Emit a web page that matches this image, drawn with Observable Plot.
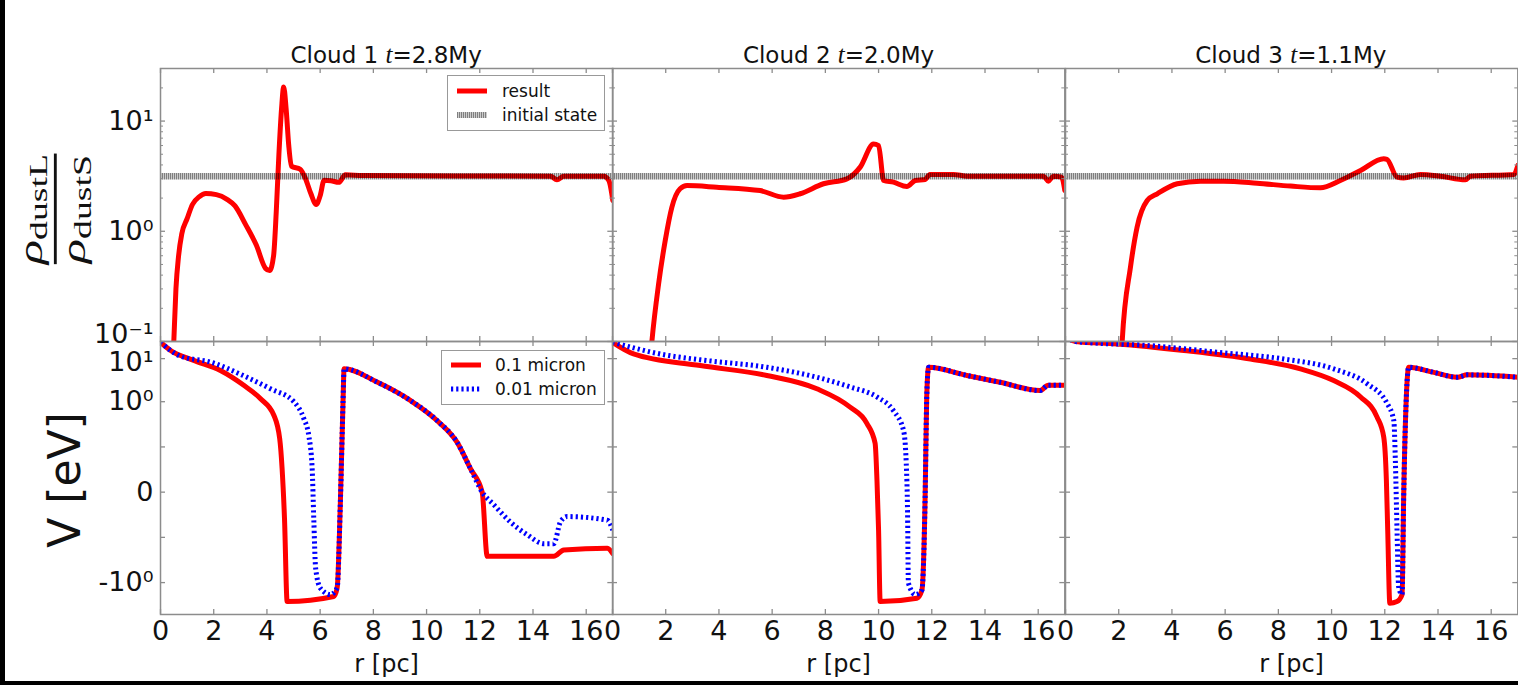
<!DOCTYPE html>
<html>
<head>
<meta charset="utf-8">
<script src="https://cdn.jsdelivr.net/npm/d3@7"></script>
<script src="https://cdn.jsdelivr.net/npm/@observablehq/plot@0.6"></script>
<style>
  html, body { margin: 0; padding: 0; background: #fff; }
  #fig { position: relative; width: 1518px; height: 685px; overflow: hidden; background: #fff;
         font-family: "DejaVu Sans", sans-serif; color: #111; }
  .blk-left { position: absolute; left: 0; top: 0; width: 5px; height: 685px; background: #000; }
  .blk-bot { position: absolute; left: 0; top: 681px; width: 1518px; height: 4px; background: #000; }
  .panel { position: absolute; }
  .title { position: absolute; font-size: 23px; line-height: 23px; white-space: nowrap; transform: translateX(-50%); }
  .title i { font-family: "Liberation Serif", serif; font-size: 25px; }
  .legend { position: absolute; border: 1.5px solid #999; background: #fff; box-sizing: border-box; }
  .legend .row { position: absolute; left: 0; height: 20px; display: flex; align-items: center; font-size: 17px; white-space: nowrap; }
  .legend svg { display: block; }
  .ylab { position: absolute; white-space: nowrap; }
  .frac { display: inline-flex; flex-direction: column; align-items: center; font-family: "Liberation Serif", serif; }
  .frac .num, .frac .den { font-size: 36px; line-height: 28px; height: 28px; }
  .frac .num i, .frac .den i { font-style: italic; }
  .frac sub { font-size: 27px; vertical-align: -6px; line-height: 0; }
  .frac .bar { width: 100%; height: 3px; background: #111; margin: 11px 0 4px 0; }
</style>
</head>
<body>
<div id="fig">
  <div class="blk-left"></div>
  <div class="blk-bot"></div>
</div>
<script>
// ---------------- data ----------------
const cloudNames = ["Cloud 1", "Cloud 2", "Cloud 3"];
const cloudTimes = ["2.8My", "2.0My", "1.1My"];
const rhoInitial = 3.16;

// dust density ratio (result), per cloud
const c1RatioR = [0.45, 0.5, 0.58, 0.68, 0.8, 1.0, 1.2, 1.45, 1.7, 2.1, 2.5, 2.8, 3.2, 3.6, 3.95, 4.1, 4.25, 4.35, 4.45, 4.55, 4.63, 4.72, 4.82, 4.92, 5.25, 5.45, 5.65, 5.85, 6.0, 6.15, 6.4, 6.7, 6.95, 7.6, 14.66, 14.9, 15.16, 16.66, 16.85, 17.0];
const c1RatioV = [0.05, 0.1, 0.3, 0.6, 0.95, 1.3, 1.75, 2.05, 2.2, 2.15, 1.95, 1.7, 1.15, 0.75, 0.46, 0.44, 0.6, 1.5, 5, 13, 20.4, 13, 6, 3.9, 3.65, 3.0, 2.2, 1.75, 2.1, 2.9, 2.88, 2.78, 3.25, 3.2, 3.16, 2.93, 3.16, 3.16, 2.89, 1.9];
const c2RatioR = [1.4, 1.48, 1.73, 1.98, 2.23, 2.54, 2.8, 3.92, 5.55, 6.43, 7.05, 7.93, 8.81, 9.31, 9.81, 10.0, 10.19, 10.56, 11.06, 11.38, 11.75, 11.93, 12.81, 13.33, 16.2, 16.38, 16.57, 16.88, 17.0];
const c2RatioV = [0.06, 0.1, 0.33, 0.82, 1.65, 2.43, 2.6, 2.51, 2.34, 2.04, 2.19, 2.7, 2.99, 3.82, 6.2, 6.0, 2.89, 2.79, 2.55, 2.89, 2.95, 3.28, 3.28, 3.16, 3.16, 2.85, 3.16, 3.1, 2.34];
const c3RatioR = [2.1, 2.13, 2.44, 2.69, 3.07, 3.45, 4.2, 5.07, 5.94, 7.2, 8.46, 9.58, 10.33, 11.09, 11.96, 12.08, 12.46, 12.71, 13.34, 14.09, 15.03, 15.22, 16.85, 17.0];
const c3RatioV = [0.06, 0.1, 0.47, 1.09, 1.9, 2.19, 2.7, 2.85, 2.85, 2.73, 2.57, 2.48, 2.89, 3.56, 4.55, 4.5, 3.1, 3.05, 3.28, 3.16, 2.93, 3.16, 3.28, 3.96];

// potential V [eV], 0.1 micron grains
const c1V1R = [0, 0.38, 1.25, 2.25, 3.13, 3.76, 4.26, 4.48, 4.57, 4.66, 4.76, 6.51, 6.64, 6.76, 6.86, 6.9, 8.14, 9.39, 10.4, 11.15, 11.65, 12.09, 12.28, 14.78, 15.16, 16.79, 17.0];
const c1V1V = [24, 15.5, 9.1, 5.3, 2.4, 1.17, 0.85, 0.59, 0.26, -0.29, -2.75, -2.1, -1.32, -0.11, 1.0, 5.8, 2.85, 1.07, 0.79, 0.55, 0.26, 0.0, -0.71, -0.71, -0.64, -0.62, -0.68];
const c2V1R = [0, 0.79, 3.3, 5.8, 7.68, 8.93, 9.56, 9.87, 9.94, 10.0, 10.06, 11.44, 11.63, 11.75, 11.81, 11.88, 13.32, 14.57, 16.07, 16.38, 17.0];
const c2V1V = [24, 12.9, 6.9, 4.07, 2.0, 0.94, 0.76, 0.54, 0.13, -0.42, -2.75, -2.3, -1.48, -0.05, 1.29, 6.3, 4.07, 2.82, 1.82, 2.4, 2.4];
const c3V1R = [0, 0.38, 1.94, 4.45, 6.95, 8.83, 10.08, 11.09, 11.71, 11.96, 12.06, 12.11, 12.19, 12.46, 12.65, 12.71, 12.81, 12.9, 13.84, 14.72, 15.1, 17.0];
const c3V1V = [32, 25, 22, 15.5, 9.8, 5.8, 3.1, 1.29, 0.83, 0.61, 0.13, -0.42, -3.0, -2.75, -1.9, -0.05, 1.29, 6.3, 4.8, 3.7, 4.2, 3.7];

// potential V [eV], 0.01 micron grains
const c1V01R = [0, 0.75, 1.88, 3.13, 4.13, 5.01, 5.39, 5.57, 5.7, 5.76, 5.83, 6.01, 6.39, 6.64, 6.76, 6.86, 6.9, 8.14, 9.39, 10.4, 11.15, 11.65, 12.09, 12.53, 13.15, 13.78, 14.41, 14.78, 15.03, 15.28, 16.79, 17.0];
const c1V01V = [24, 11.4, 8.3, 4.0, 2.0, 1.0, 0.81, 0.63, 0.26, -0.29, -0.84, -1.35, -1.9, -1.32, -0.11, 1.0, 5.8, 2.85, 1.07, 0.79, 0.55, 0.26, 0.0, -0.14, -0.33, -0.47, -0.57, -0.57, -0.33, -0.27, -0.31, -0.42];
const c2V01R = [0, 2.04, 3.3, 5.8, 7.68, 8.93, 9.94, 10.56, 10.94, 11.04, 11.09, 11.12, 11.38, 11.63, 11.75, 11.81, 11.88, 13.32, 14.57, 16.07, 16.38, 17.0];
const c2V01V = [24, 12.0, 9.4, 6.3, 3.7, 2.2, 1.29, 0.9, 0.68, 0.32, -0.24, -1.02, -1.9, -1.48, -0.05, 1.29, 6.3, 4.07, 2.82, 1.82, 2.4, 2.4];
const c3V01R = [0, 0.38, 3.19, 5.7, 8.2, 10.08, 11.34, 12.09, 12.34, 12.4, 12.46, 12.52, 12.65, 12.71, 12.81, 12.9, 13.84, 14.72, 15.1, 17.0];
const c3V01V = [32, 25, 20, 14.1, 9.8, 5.8, 2.6, 0.98, 0.79, 0.32, -0.42, -1.24, -1.9, -0.05, 1.29, 6.3, 4.8, 3.7, 4.2, 3.7];

// axes
const xDomain = [0, 17];
const xTicks = [0, 2, 4, 6, 8, 10, 12, 14, 16];
const ratioDomain = [0.1, 30];
const ratioTicks = [0.1, 1, 10];
const ratioTickLabels = ["10⁻¹", "10⁰", "10¹"];
const ratioMinor = [0.2, 0.3, 0.4, 0.5, 0.6, 0.7, 0.8, 0.9, 2, 3, 4, 5, 6, 7, 8, 9, 20, 30];
const vDomain = [-5.5, 25];
const vTicks = [10, 1, 0.5, 0, -0.5, -1];
const vLabelTicks = [10, 1, 0, -1];
const vTickLabels = ["10¹", "10⁰", "0", "-10⁰"];

// ---------------- layout ----------------
const X0 = 160, W = (1517 - 160) / 3, H = 273, TOP1 = 68, TOP2 = 341;
const LIN = 2.1; // width of the linear part of the symlog axis, in decades
const symT = v => Math.sign(v) * (Math.abs(v) <= 1 ? Math.abs(v) * LIN : LIN + Math.log10(Math.abs(v)));

const AX = "#8c8c8c";
const BLUE_DASH = "2.2,3";
const rows = (rs, vs) => rs.map((r, i) => ({r, v: vs[i]}));
const ratioData = [rows(c1RatioR, c1RatioV), rows(c2RatioR, c2RatioV), rows(c3RatioR, c3RatioV)];
const v1Data = [rows(c1V1R, c1V1V), rows(c2V1R, c2V1V), rows(c3V1R, c3V1V)];
const v01Data = [rows(c1V01R, c1V01V), rows(c2V01R, c2V01V), rows(c3V01R, c3V01V)];

function edgeTicks(yMajor, yMinor) {
  const m = [
    Plot.ruleX(xTicks, {x: d => d, insetTop: H - 5, stroke: AX, strokeWidth: 1.3}),
    Plot.ruleX(xTicks, {x: d => d, insetBottom: H - 5, stroke: AX, strokeWidth: 1.3}),
    Plot.ruleY(yMajor, {y: d => d, insetRight: W - 5, stroke: AX, strokeWidth: 1.3}),
    Plot.ruleY(yMajor, {y: d => d, insetLeft: W - 5, stroke: AX, strokeWidth: 1.3})
  ];
  if (yMinor) {
    m.push(Plot.ruleY(yMinor, {y: d => d, insetRight: W - 3, stroke: AX, strokeWidth: 1}));
    m.push(Plot.ruleY(yMinor, {y: d => d, insetLeft: W - 3, stroke: AX, strokeWidth: 1}));
  }
  return m;
}

const baseStyle = {fontFamily: '"DejaVu Sans", sans-serif', background: "transparent", overflow: "visible", color: "#111"};

function topPanel(i) {
  const marks = [
    Plot.line(ratioData[i], {x: "r", y: "v", stroke: "#ff0000", strokeWidth: 5, strokeLinejoin: "round", curve: "monotone-x", clip: true}),
    Plot.ruleY([rhoInitial], {y: d => d, stroke: "#000", strokeOpacity: 0.5, strokeWidth: 6.5, strokeDasharray: "1.4,0.6"}),
    Plot.frame({stroke: AX, strokeWidth: 1.5}),
    ...edgeTicks(ratioTicks, ratioMinor)
  ];
  if (i === 0) {
    const labs = ratioTicks.map((t, k) => ({t, s: ratioTickLabels[k]}));
    marks.push(Plot.text(labs.filter(d => d.t !== 0.1),
      {y: "t", text: "s", frameAnchor: "left", textAnchor: "end", dx: -7, fontSize: 27, fill: "#111"}));
    marks.push(Plot.text(labs.filter(d => d.t === 0.1),
      {y: "t", text: "s", frameAnchor: "left", textAnchor: "end", dx: -7, dy: -7, fontSize: 27, fill: "#111"}));
  }
  return Plot.plot({
    width: W, height: H, marginTop: 0, marginBottom: 0, marginLeft: 0, marginRight: 0,
    style: baseStyle,
    x: {domain: xDomain, axis: null},
    y: {type: "log", domain: ratioDomain, axis: null},
    marks
  });
}

function bottomPanel(i) {
  const marks = [
    Plot.line(v1Data[i], {x: "r", y: "v", stroke: "#ff0000", strokeWidth: 5, strokeLinejoin: "round", curve: "monotone-x", clip: true}),
    Plot.line(v01Data[i], {x: "r", y: "v", stroke: "#0000ff", strokeWidth: 5, strokeLinecap: "butt", strokeDasharray: BLUE_DASH, curve: "monotone-x", clip: true}),
    Plot.frame({stroke: AX, strokeWidth: 1.5}),
    ...edgeTicks(vTicks, null),
    Plot.text(xTicks, {x: d => d, text: d => String(d), frameAnchor: "bottom", lineAnchor: "middle", dy: 17, fontSize: 27, fill: "#111"}),
    Plot.text(["r [pc]"], {text: d => d, frameAnchor: "bottom", lineAnchor: "middle", dy: 50, fontSize: 24, fill: "#111"})
  ];
  if (i === 0) {
    const labs = vLabelTicks.map((t, k) => ({t, s: vTickLabels[k]}));
    marks.push(Plot.text(labs.filter(d => d.t !== 10),
      {y: "t", text: "s", frameAnchor: "left", textAnchor: "end", dx: -7, fontSize: 27, fill: "#111"}));
    marks.push(Plot.text(labs.filter(d => d.t === 10),
      {y: "t", text: "s", frameAnchor: "left", textAnchor: "end", dx: -7, dy: 4, fontSize: 27, fill: "#111"}));
  }
  return Plot.plot({
    width: W, height: H, marginTop: 0, marginBottom: 0, marginLeft: 0, marginRight: 0,
    style: baseStyle,
    x: {domain: xDomain, axis: null},
    y: {type: "linear", transform: symT, domain: vDomain.map(symT), axis: null},
    marks
  });
}

const fig = document.getElementById("fig");
function place(el, left, top) {
  const d = document.createElement("div");
  d.className = "panel";
  d.style.left = left + "px";
  d.style.top = top + "px";
  d.appendChild(el);
  fig.appendChild(d);
  return d;
}

for (let i = 0; i < 3; i++) {
  place(topPanel(i), X0 + i * W, TOP1);
  place(bottomPanel(i), X0 + i * W, TOP2);
  const t = document.createElement("div");
  t.className = "title";
  t.style.left = (X0 + (i + 0.5) * W) + "px";
  t.style.top = "43px";
  t.innerHTML = `${cloudNames[i]} <i>t</i>=${cloudTimes[i]}`;
  fig.appendChild(t);
}

// y labels (rotated)
const yl1 = document.createElement("div");
yl1.className = "ylab";
yl1.style.left = "52px"; yl1.style.top = "209px";
yl1.style.transform = "translate(-50%, -50%) rotate(-90deg) scale(1.4, 0.95)";
yl1.innerHTML = `<div class="frac"><div class="num"><i>ρ</i><sub>dustL</sub></div><div class="bar"></div><div class="den"><i>ρ</i><sub>dustS</sub></div></div>`;
fig.appendChild(yl1);

const yl2 = document.createElement("div");
yl2.className = "ylab";
yl2.style.left = "64px"; yl2.style.top = "480px";
yl2.style.fontSize = "44px";
yl2.style.transform = "translate(-50%, -50%) rotate(-90deg)";
yl2.textContent = "V [eV]";
fig.appendChild(yl2);

// legends
function legend(left, top, w, h, entries) {
  const box = document.createElement("div");
  box.className = "legend";
  Object.assign(box.style, {left: left + "px", top: top + "px", width: w + "px", height: h + "px"});
  entries.forEach((e) => {
    const row = document.createElement("div");
    row.className = "row";
    row.style.top = (e.y - 10) + "px";
    row.style.left = "8px";
    row.innerHTML = `<svg width="32" height="10" style="margin-right:${e.gap}px"><line x1="1" x2="31" y1="5" y2="5" stroke="${e.color}" stroke-width="${e.sw}" ${e.op ? `stroke-opacity="${e.op}"` : ""} ${e.dash ? `stroke-dasharray="${e.dash}"` : ""}/></svg><span>${e.label}</span>`;
    box.appendChild(row);
  });
  fig.appendChild(box);
}
legend(447, 75, 158, 56, [
  {y: 15, label: "result", color: "#ff0000", sw: 5, gap: 14},
  {y: 38.5, label: "initial state", color: "#000", sw: 6, op: 0.5, dash: "1.4,0.6", gap: 14}
]);
legend(441, 350, 164, 55, [
  {y: 14, label: "0.1 micron", color: "#ff0000", sw: 5, gap: 13},
  {y: 38, label: "0.01 micron", color: "#0000ff", sw: 5, dash: BLUE_DASH, gap: 13}
]);
</script>
</body>
</html>
